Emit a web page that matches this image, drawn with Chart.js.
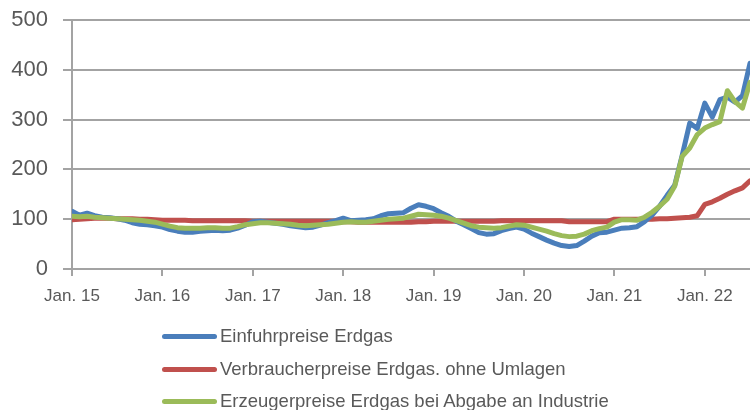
<!DOCTYPE html>
<html>
<head>
<meta charset="utf-8">
<script src="https://cdn.jsdelivr.net/npm/chart.js@4.4.1/dist/chart.umd.min.js"></script>
<style>
  html, body { margin: 0; padding: 0; background: #ffffff; }
  #wrap { position: relative; width: 750px; height: 410px; overflow: hidden; }
  #chartBox { position: absolute; left: 0; top: 0; width: 750px; height: 310px; }
  #legend { position: absolute; left: 0; top: 0; width: 750px; height: 410px; pointer-events: none; }
  .row { position: absolute; left: 162px; height: 24px; display: flex; align-items: center; }
  .sw { width: 55px; height: 5px; border-radius: 3px; margin-right: 3px; }
  .lbl { font-family: "Liberation Sans", Arial, sans-serif; font-size: 18.5px; color: #595959; white-space: nowrap; }
</style>
</head>
<body>
<div id="wrap">
  <div id="chartBox"><canvas id="c" width="750" height="310"></canvas></div>
  <div id="legend"></div>
</div>
<script>
// Month categories (Jan. 2015 – Jul. 2022)
const categories = [
  "Jan. 15","Feb. 15","Mär. 15","Apr. 15","Mai 15","Jun. 15","Jul. 15","Aug. 15","Sep. 15","Okt. 15","Nov. 15","Dez. 15",
  "Jan. 16","Feb. 16","Mär. 16","Apr. 16","Mai 16","Jun. 16","Jul. 16","Aug. 16","Sep. 16","Okt. 16","Nov. 16","Dez. 16",
  "Jan. 17","Feb. 17","Mär. 17","Apr. 17","Mai 17","Jun. 17","Jul. 17","Aug. 17","Sep. 17","Okt. 17","Nov. 17","Dez. 17",
  "Jan. 18","Feb. 18","Mär. 18","Apr. 18","Mai 18","Jun. 18","Jul. 18","Aug. 18","Sep. 18","Okt. 18","Nov. 18","Dez. 18",
  "Jan. 19","Feb. 19","Mär. 19","Apr. 19","Mai 19","Jun. 19","Jul. 19","Aug. 19","Sep. 19","Okt. 19","Nov. 19","Dez. 19",
  "Jan. 20","Feb. 20","Mär. 20","Apr. 20","Mai 20","Jun. 20","Jul. 20","Aug. 20","Sep. 20","Okt. 20","Nov. 20","Dez. 20",
  "Jan. 21","Feb. 21","Mär. 21","Apr. 21","Mai 21","Jun. 21","Jul. 21","Aug. 21","Sep. 21","Okt. 21","Nov. 21","Dez. 21",
  "Jan. 22","Feb. 22","Mär. 22","Apr. 22","Mai 22","Jun. 22","Jul. 22"
];

// Einfuhrpreise Erdgas
const einfuhrpreise = [
  116,108,112,107,104,103,101,98,93,90,89,87,
  84,79,76,74,74,76,77,78,77,78,82,88,
  95,96,94,92,90,87,85,83,84,88,93,97,
  102,97,98,99,101,107,111,112,113,122,129,126,
  121,113,106,96,89,81,73,70,71,77,81,84,
  80,72,65,58,52,47,45,47,56,66,73,74,
  78,82,83,85,95,108,126,148,168,228,293,282,
  333,305,340,345,335,348,413
];

// Verbraucherpreise Erdgas, ohne Umlagen
const verbraucherpreise = [
  99,100,101,102,102,102,101,101,101,100,100,99,
  98,98,98,98,97,97,97,97,97,97,97,97,
  96,96,96,96,96,96,96,96,96,96,96,96,
  95,95,94,94,94,94,94,94,94,94,95,95,
  96,96,96,96,96,96,96,96,96,97,97,97,
  97,97,97,97,97,97,95,95,95,95,95,95,
  100,100,100,100,100,100,101,101,102,103,104,107,
  130,135,142,150,157,163,177
];

// Erzeugerpreise Erdgas bei Abgabe an Industrie
const erzeugerpreise = [
  106,105,106,104,103,102,101,100,99,98,96,94,
  90,86,83,82,82,82,83,83,82,82,85,89,
  91,93,93,92,91,90,88,87,88,89,90,92,
  94,95,94,94,96,98,100,101,102,106,110,109,
  108,106,102,97,92,87,84,83,82,83,86,89,
  88,84,80,76,71,67,65,66,70,77,81,84,
  94,99,99,98,104,114,126,140,166,226,243,270,
  283,290,296,358,336,323,375
];

const seriesNames = [
  "Einfuhrpreise Erdgas",
  "Verbraucherpreise Erdgas. ohne Umlagen",
  "Erzeugerpreise Erdgas bei Abgabe an Industrie"
];
const seriesColors = ["#4a7ebb", "#c0504d", "#9bbb59"];
const yTicks = [0, 100, 200, 300, 400, 500];

const seriesValues = [einfuhrpreise, verbraucherpreise, erzeugerpreise];
const drawOrder = [2, 3, 1];

const gridColor = "#a3a3a3";
const textColor = "#595959";

const datasets = seriesValues.map((vals, s) => ({
  label: seriesNames[s],
  data: vals.map((v, i) => ({ x: i, y: v })),
  borderColor: seriesColors[s],
  backgroundColor: seriesColors[s],
  borderWidth: 5,
  pointRadius: 0,
  tension: 0,
  borderCapStyle: "round",
  borderJoinStyle: "round",
  order: drawOrder[s],
  fill: false
}));

const chart = new Chart(document.getElementById("c"), {
  type: "line",
  data: { datasets },
  options: {
    responsive: false,
    animation: false,
    layout: { padding: { top: 20, right: 0, left: 0, bottom: 0 } },
    plugins: { legend: { display: false }, tooltip: { enabled: false } },
    scales: {
      x: {
        type: "linear",
        min: 0,
        max: categories.length - 1,
        afterFit: (s) => { s.height = 41; s.paddingLeft = 0; s.paddingRight = 0; },
        border: { display: true, color: gridColor, width: 2 },
        grid: { drawOnChartArea: false, drawTicks: true, tickLength: 7, color: gridColor, lineWidth: 2 },
        ticks: {
          stepSize: 12,
          includeBounds: false,
          autoSkip: false,
          maxRotation: 0,
          padding: 10,
          color: textColor,
          font: { family: "'Liberation Sans Narrow', 'Arial Narrow', 'Liberation Sans', sans-serif", size: 17 },
          callback: (v) => categories[v]
        }
      },
      y: {
        min: 0,
        max: 500,
        afterFit: (s) => { s.width = 72; s.paddingTop = 0; s.paddingBottom = 0; },
        afterBuildTicks: (s) => { s.ticks = yTicks.map(v => ({ value: v })); },
        border: { display: true, color: gridColor, width: 2 },
        grid: { color: gridColor, lineWidth: 2, drawTicks: true, tickLength: 9 },
        ticks: {
          padding: 15,
          color: textColor,
          font: { family: "'Liberation Sans', Arial, sans-serif", size: 22 }
        }
      }
    }
  }
});

// HTML legend built from the chart's datasets
const legend = document.getElementById("legend");
const rowCenters = [336, 369, 401];
chart.data.datasets.forEach((ds, i) => {
  const row = document.createElement("div");
  row.className = "row";
  row.style.top = (rowCenters[i] - 12) + "px";
  const sw = document.createElement("div");
  sw.className = "sw";
  sw.style.background = ds.borderColor;
  const lbl = document.createElement("span");
  lbl.className = "lbl";
  lbl.textContent = ds.label;
  row.appendChild(sw);
  row.appendChild(lbl);
  legend.appendChild(row);
});
</script>
</body>
</html>
